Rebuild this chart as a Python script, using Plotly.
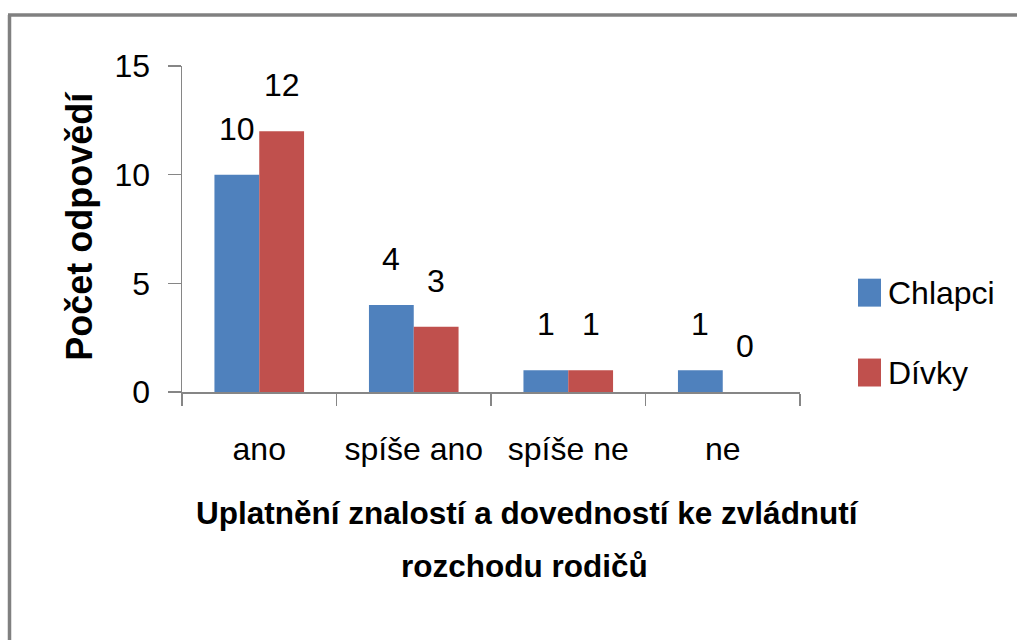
import plotly.graph_objects as go

categories = ["ano", "spíše ano", "spíše ne", "ne"]
series_names = ["Chlapci", "Dívky"]
chlapci = [10, 4, 1, 1]
divky = [12, 3, 1, 0]
colors = ["#4F81BD", "#C0504D"]
y_ticks = [0, 5, 10, 15]
x_title_lines = ["Uplatnění znalostí a dovedností ke zvládnutí", "rozchodu rodičů"]
y_title = "Počet odpovědí"

W, H = 1017, 641
L, R, T, B = 182, 800, 66, 392.5
FONT = "Liberation Sans, Arial, sans-serif"
FS = 32

def px(x):
    return (x - L) / (R - L)

def py(y):
    return (B - y) / (B - T)

fig = go.Figure()
for name, vals, col in zip(series_names, [chlapci, divky], colors):
    fig.add_trace(go.Bar(x=categories, y=vals, name=name, marker_color=col,
                         marker_line_width=0, showlegend=False, hoverinfo="skip"))

annotations = []
offsets = [-0.147, 0.147]
for k, vals in enumerate([chlapci, divky]):
    for i, v in enumerate(vals):
        annotations.append(dict(x=i + offsets[k], y=v, xref="x", yref="y", text=str(v),
                                showarrow=False, yanchor="bottom", yshift=26,
                                font=dict(family=FONT, size=FS, color="#000")))

annotations.append(dict(x=px(527), y=py(527), xref="paper", yref="paper", text=f"<b>{x_title_lines[0]}</b>",
                        showarrow=False, xanchor="center", yanchor="bottom", yshift=-7,
                        font=dict(family=FONT, size=31.5, color="#000")))
annotations.append(dict(x=px(524), y=py(580), xref="paper", yref="paper", text=f"<b>{x_title_lines[1]}</b>",
                        showarrow=False, xanchor="center", yanchor="bottom", yshift=-7,
                        font=dict(family=FONT, size=31.5, color="#000")))
annotations.append(dict(x=px(80), y=py(227), xref="paper", yref="paper", text=f"<b>{y_title}</b>",
                        showarrow=False, textangle=-90, xanchor="center", yanchor="middle",
                        font=dict(family=FONT, size=36, color="#000")))

shapes = []
legend_y = [293, 373]
for name, col, ly in zip(series_names, colors, legend_y):
    shapes.append(dict(type="rect", xref="paper", yref="paper", x0=px(858), x1=px(881),
                       y0=py(ly + 14), y1=py(ly - 14), fillcolor=col, line_width=0))
    annotations.append(dict(x=px(886), y=py(ly), xref="paper", yref="paper", text=name,
                            showarrow=False, xanchor="left", yanchor="middle",
                            font=dict(family=FONT, size=FS, color="#000")))

# chart border (top and left visible)
shapes.append(dict(type="line", xref="paper", yref="paper", x0=px(8), x1=px(1017), y0=py(15), y1=py(15),
                   line=dict(color="#808080", width=3.5)))
shapes.append(dict(type="line", xref="paper", yref="paper", x0=px(9.5), x1=px(9.5), y0=py(15), y1=py(641),
                   line=dict(color="#808080", width=3.5)))

fig.update_layout(
    width=W, height=H,
    margin=dict(l=L, r=W - R, t=T, b=H - B, pad=0),
    paper_bgcolor="white", plot_bgcolor="white",
    barmode="group", bargap=0.42, bargroupgap=0,
    annotations=annotations, shapes=shapes,
    font=dict(family=FONT, size=FS, color="#000"),
    hovermode=False,
)
fig.update_xaxes(type="category", range=[-0.5, 3.5], showline=True, linecolor="#868686", linewidth=1.5,
                 ticks="outside", tickson="boundaries", ticklen=12, tickcolor="#868686", tickwidth=1.5,
                 showgrid=False, tickangle=0, automargin=False, ticklabelstandoff=28,
                 tickfont=dict(family=FONT, size=FS, color="#000"))
fig.update_yaxes(range=[0, 15], tickvals=y_ticks, showline=True, linecolor="#868686", linewidth=1.5,
                 ticks="outside", ticklen=13, tickcolor="#868686", tickwidth=1.5, showgrid=False,
                 zeroline=False, ticklabelstandoff=11, automargin=False,
                 tickfont=dict(family=FONT, size=FS, color="#000"))

fig.write_html("out.html", config={"displayModeBar": False, "staticPlot": True},
               post_script="document.body.style.margin='0';document.body.style.overflow='hidden';")
